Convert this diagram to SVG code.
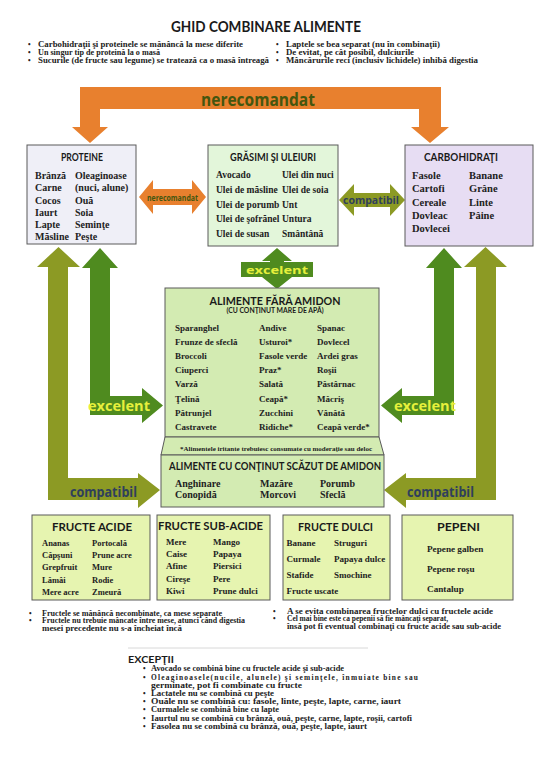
<svg xmlns="http://www.w3.org/2000/svg" width="544" height="769" viewBox="0 0 544 769">
<style>
.box{stroke:#5a5a5a;stroke-width:1}
.t{font-family:Lato,"Open Sans","Liberation Sans",sans-serif;font-weight:bold;fill:#1a1a1a;text-anchor:middle}
.i{font-family:"Liberation Serif",serif;font-weight:bold;fill:#222}
.n{font-family:"Liberation Serif",serif;font-weight:bold;fill:#222;font-size:7.4px}
.lbl{font-family:"Open Sans",Lato,"Liberation Sans",sans-serif;font-weight:bold;text-anchor:middle}
.orange{fill:#E8802E}
.green{fill:#4F8B1F}
.olive{fill:#8C9A24}
.exc{fill:#E6F03C}
.cmp{fill:#2F3F5C}
.ner{fill:#44560F}
</style>
<rect width="544" height="769" fill="#fff"/>

<g id="header">
<text class="t" x="266" y="32" font-size="15" textLength="190" lengthAdjust="spacingAndGlyphs">GHID COMBINARE ALIMENTE</text>
<g class="n">
<text x="28" y="46.5">•</text><text x="38" y="46.5" textLength="205" lengthAdjust="spacingAndGlyphs">Carbohidraţii şi proteinele se mănâncă la mese diferite</text>
<text x="28" y="54.5">•</text><text x="38" y="54.5" textLength="122" lengthAdjust="spacingAndGlyphs">Un singur tip de proteină la o masă</text>
<text x="28" y="62.5">•</text><text x="38" y="62.5" textLength="231" lengthAdjust="spacingAndGlyphs">Sucurile (de fructe sau legume) se tratează ca o masă întreagă</text>
<text x="276" y="46.5">•</text><text x="286" y="46.5" textLength="154" lengthAdjust="spacingAndGlyphs">Laptele se bea separat (nu în combinaţii)</text>
<text x="276" y="54.5">•</text><text x="286" y="54.5" textLength="128" lengthAdjust="spacingAndGlyphs">De evitat, pe cât posibil, dulciurile</text>
<text x="276" y="62.5">•</text><text x="286" y="62.5" textLength="192" lengthAdjust="spacingAndGlyphs">Mâncărurile reci (inclusiv lichidele) inhibă digestia</text>
</g>
</g>

<g id="connectors">
<polygon class="orange" points="80,87 441,87 441,127 449,127 430,143 411,127 419,127 419,109 100,109 100,127 108,127 90,143 72,127 80,127"/>
<text class="lbl ner" x="258" y="105.5" font-size="17" textLength="114" lengthAdjust="spacingAndGlyphs">nerecomandat</text>

<polygon class="orange" points="139,197 153,180 153,189 192,189 192,180 206,197 192,214 192,205 153,205 153,214"/>
<text class="lbl ner" x="172.5" y="200.5" font-size="9" textLength="51" lengthAdjust="spacingAndGlyphs">nerecomandat</text>

<polygon class="olive" points="339,200 354,184 354,193 390,193 390,184 405,200 390,216 390,207 354,207 354,216"/>
<text class="lbl cmp" x="371" y="204" font-size="10" textLength="56" lengthAdjust="spacingAndGlyphs">compatibil</text>

<polygon class="green" points="277,248 292,261 284,261 284,277 292,277 277,289 262,277 270,277 270,261 262,261"/>
<rect class="green" x="241" y="262" width="72" height="15"/>
<text class="lbl exc" x="277" y="273.5" font-size="11" textLength="62" lengthAdjust="spacingAndGlyphs">excelent</text>

<polygon class="olive" points="58.5,247 80,267 68,267 68,478 138,478 138,473 160,490 138,508 138,500 48,500 48,267 37,267"/>
<polygon class="green" points="100,248 118,268 110,268 110,396 142,396 142,388 163,405.5 142,423 142,415 90,415 90,268 82,268"/>
<text class="lbl exc" x="119" y="410.5" font-size="14" textLength="62" lengthAdjust="spacingAndGlyphs">excelent</text>
<text class="lbl cmp" x="103.5" y="497" font-size="14" textLength="67" lengthAdjust="spacingAndGlyphs">compatibil</text>

<polygon class="olive" points="485.5,247 464,267 476,267 476,478 406,478 406,473 384,490 406,508 406,500 496,500 496,267 507,267"/>
<polygon class="green" points="444,248 426,268 434,268 434,396 402,396 402,388 381,405.5 402,423 402,415 454,415 454,268 462,268"/>
<text class="lbl exc" x="425" y="410.5" font-size="14" textLength="62" lengthAdjust="spacingAndGlyphs">excelent</text>
<text class="lbl cmp" x="440.5" y="497" font-size="14" textLength="67" lengthAdjust="spacingAndGlyphs">compatibil</text>
</g>

<g id="proteine">
<rect class="box" x="27" y="145" width="109" height="99" fill="#EFEFF7"/>
<text class="t" x="82" y="161" font-size="11" textLength="42" lengthAdjust="spacingAndGlyphs">PROTEINE</text>
<g class="i" font-size="10">
<text x="35" y="179">Brânză</text><text x="75" y="179">Oleaginoase</text>
<text x="35" y="191">Carne</text><text x="75" y="191">(nuci, alune)</text>
<text x="35" y="203.5">Cocos</text><text x="75" y="203.5">Ouă</text>
<text x="35" y="215.5">Iaurt</text><text x="75" y="215.5">Soia</text>
<text x="35" y="227.5">Lapte</text><text x="75" y="227.5">Seminţe</text>
<text x="35" y="239.5">Măsline</text><text x="75" y="239.5">Peşte</text>
</g>
</g>

<g id="grasimi">
<rect class="box" x="208" y="145" width="130" height="101" fill="#E3F6DA"/>
<text class="t" x="273" y="161" font-size="11" textLength="86" lengthAdjust="spacingAndGlyphs">GRĂSIMI ŞI ULEIURI</text>
<g class="i" font-size="9.5">
<text x="216" y="178">Avocado</text><text x="282" y="178">Ulei din nuci</text>
<text x="216" y="193">Ulei de măsline</text><text x="282" y="193">Ulei de soia</text>
<text x="216" y="207.5">Ulei de porumb</text><text x="282" y="207.5">Unt</text>
<text x="216" y="222">Ulei de şofrănel</text><text x="282" y="222">Untura</text>
<text x="216" y="236.5">Ulei de susan</text><text x="282" y="236.5">Smântână</text>
</g>
</g>

<g id="carbohidrati">
<rect class="box" x="405" y="145" width="128" height="101" fill="#E7DDF3"/>
<text class="t" x="461" y="161" font-size="11" textLength="74" lengthAdjust="spacingAndGlyphs">CARBOHIDRAŢI</text>
<g class="i" font-size="10.5">
<text x="412" y="179">Fasole</text><text x="469" y="179">Banane</text>
<text x="412" y="192">Cartofi</text><text x="469" y="192">Grâne</text>
<text x="412" y="205.5">Cereale</text><text x="469" y="205.5">Linte</text>
<text x="412" y="218.5">Dovleac</text><text x="469" y="218.5">Pâine</text>
<text x="412" y="232">Dovlecei</text>
</g>
</g>

<g id="fara-amidon">
<rect class="box" x="165" y="288" width="214" height="149" fill="#D3EBB2"/>
<text class="t" x="275" y="304.5" font-size="12" textLength="131" lengthAdjust="spacingAndGlyphs">ALIMENTE FĂRĂ AMIDON</text>
<text class="t" x="275" y="313" font-size="7" textLength="97" lengthAdjust="spacingAndGlyphs">(CU CONŢINUT MARE DE APĂ)</text>
<g class="i" font-size="9">
<text x="175" y="330.5">Sparanghel</text><text x="259" y="330.5">Andive</text><text x="317" y="330.5">Spanac</text>
<text x="175" y="344.7">Frunze de sfeclă</text><text x="259" y="344.7">Usturoi*</text><text x="317" y="344.7">Dovlecel</text>
<text x="175" y="358.9">Broccoli</text><text x="259" y="358.9">Fasole verde</text><text x="317" y="358.9">Ardei gras</text>
<text x="175" y="373.1">Ciuperci</text><text x="259" y="373.1">Praz*</text><text x="317" y="373.1">Roşii</text>
<text x="175" y="387.3">Varză</text><text x="259" y="387.3">Salată</text><text x="317" y="387.3">Păstârnac</text>
<text x="175" y="401.5">Ţelină</text><text x="259" y="401.5">Ceapă*</text><text x="317" y="401.5">Măcriş</text>
<text x="175" y="415.7">Pătrunjel</text><text x="259" y="415.7">Zucchini</text><text x="317" y="415.7">Vânătă</text>
<text x="175" y="429.9">Castravete</text><text x="259" y="429.9">Ridiche*</text><text x="317" y="429.9">Ceapă verde*</text>
</g>
<polygon class="box" points="165,437 379,437 384,455 161,455" fill="#D3EBB2"/>
<text class="i" x="276" y="451" font-size="6" text-anchor="middle" textLength="192" lengthAdjust="spacingAndGlyphs">*Alimentele iritante trebuiesc consumate cu moderaţie sau deloc</text>
</g>

<g id="scazut-amidon">
<rect class="box" x="161" y="455" width="223" height="52" fill="#D3EBB2"/>
<text class="t" x="275" y="469.5" font-size="11" textLength="212" lengthAdjust="spacingAndGlyphs">ALIMENTE CU CONŢINUT SCĂZUT DE AMIDON</text>
<g class="i" font-size="10">
<text x="175" y="486.8">Anghinare</text><text x="260" y="486.8">Mazăre</text><text x="320" y="486.8">Porumb</text>
<text x="175" y="497.8">Conopidă</text><text x="260" y="497.8">Morcovi</text><text x="320" y="497.8">Sfeclă</text>
</g>
</g>

<g id="fructe-acide">
<rect class="box" x="32" y="515" width="118" height="85" fill="#E6F4B0"/>
<text class="t" x="92" y="531" font-size="11" textLength="80" lengthAdjust="spacingAndGlyphs">FRUCTE ACIDE</text>
<g class="i" font-size="8.5">
<text x="42" y="546">Ananas</text><text x="92" y="546">Portocală</text>
<text x="42" y="558">Căpşuni</text><text x="92" y="558">Prune acre</text>
<text x="42" y="570">Grepfruit</text><text x="92" y="570">Mure</text>
<text x="42" y="583">Lămâi</text><text x="92" y="583">Rodie</text>
<text x="42" y="595">Mere acre</text><text x="92" y="595">Zmeură</text>
</g>
</g>

<g id="fructe-subacide">
<rect class="box" x="157" y="515" width="113" height="85" fill="#E6F4B0"/>
<text class="t" x="210.5" y="530" font-size="11" textLength="105" lengthAdjust="spacingAndGlyphs">FRUCTE SUB-ACIDE</text>
<g class="i" font-size="9">
<text x="166" y="545">Mere</text><text x="213" y="545">Mango</text>
<text x="166" y="557.2">Caise</text><text x="213" y="557.2">Papaya</text>
<text x="166" y="569.4">Afine</text><text x="213" y="569.4">Piersici</text>
<text x="166" y="581.6">Cireşe</text><text x="213" y="581.6">Pere</text>
<text x="166" y="593.8">Kiwi</text><text x="213" y="593.8">Prune dulci</text>
</g>
</g>

<g id="fructe-dulci">
<rect class="box" x="283" y="515" width="107" height="85" fill="#E6F4B0"/>
<text class="t" x="335.5" y="531" font-size="11" textLength="75" lengthAdjust="spacingAndGlyphs">FRUCTE DULCI</text>
<g class="i" font-size="9">
<text x="286.5" y="546">Banane</text><text x="334" y="546">Struguri</text>
<text x="286.5" y="562">Curmale</text><text x="334" y="562">Papaya dulce</text>
<text x="286.5" y="578">Stafide</text><text x="334" y="578">Smochine</text>
<text x="286.5" y="594">Fructe uscate</text>
</g>
</g>

<g id="pepeni">
<rect class="box" x="402" y="515" width="111" height="85" fill="#E6F4B0"/>
<text class="t" x="458.5" y="531" font-size="11" textLength="43" lengthAdjust="spacingAndGlyphs">PEPENI</text>
<g class="i" font-size="9.2">
<text x="427" y="552">Pepene galben</text>
<text x="427" y="572">Pepene roşu</text>
<text x="427" y="592">Cantalup</text>
</g>
</g>

<g id="note-fructe">
<g class="n" font-size="7">
<text x="29" y="615.5">•</text><text x="42" y="615.5" textLength="180" lengthAdjust="spacingAndGlyphs">Fructele se mănâncă necombinate, ca mese separate</text>
<text x="29" y="623">•</text><text x="42" y="623" textLength="203" lengthAdjust="spacingAndGlyphs">Fructele nu trebuie mâncate între mese, atunci când digestia</text>
<text x="42" y="630.5" textLength="140" lengthAdjust="spacingAndGlyphs">mesei precedente nu s-a încheiat încă</text>
<text x="273" y="613.5">•</text><text x="287" y="613.5" textLength="206" lengthAdjust="spacingAndGlyphs">A se evita combinarea fructelor dulci cu fructele acide</text>
<text x="273" y="621">•</text><text x="287" y="621" textLength="161" lengthAdjust="spacingAndGlyphs">Cel mai bine este ca pepenii să fie mâncaţi separat,</text>
<text x="287" y="628.5" textLength="214" lengthAdjust="spacingAndGlyphs">însă pot fi eventual combinaţi cu fructe acide sau sub-acide</text>
</g>
</g>

<g id="exceptii">
<line x1="128" y1="648" x2="368" y2="648" stroke="#d8d8d8" stroke-width="1"/>
<text class="t" x="151" y="662.5" font-size="9.5" text-anchor="start" textLength="46" lengthAdjust="spacingAndGlyphs">EXCEPŢII</text>
<g class="n" font-size="7.2">
<text x="143" y="671">•</text><text x="151" y="671" textLength="193" lengthAdjust="spacingAndGlyphs">Avocado se combină bine cu fructele acide şi sub-acide</text>
<text x="143" y="679.5">•</text><text x="151" y="679.5" textLength="267" lengthAdjust="spacing">Oleaginoasele(nucile, alunele) şi seminţele, înmuiate bine sau</text>
<text x="151" y="687.8" textLength="151" lengthAdjust="spacingAndGlyphs">germinate, pot fi combinate cu fructe</text>
<text x="143" y="695.7">•</text><text x="151" y="695.7" textLength="123" lengthAdjust="spacingAndGlyphs">Lactatele nu se combină cu peşte</text>
<text x="143" y="704">•</text><text x="151" y="704" textLength="250" lengthAdjust="spacingAndGlyphs">Ouăle nu se combină cu: fasole, linte, peşte, lapte, carne, iaurt</text>
<text x="143" y="712.3">•</text><text x="151" y="712.3" textLength="128" lengthAdjust="spacingAndGlyphs">Curmalele se combină bine cu lapte</text>
<text x="143" y="720.6">•</text><text x="151" y="720.6" textLength="261" lengthAdjust="spacingAndGlyphs">Iaurtul nu se combină cu brânză, ouă, peşte, carne, lapte, roşii, cartofi</text>
<text x="143" y="728.9">•</text><text x="151" y="728.9" textLength="216" lengthAdjust="spacingAndGlyphs">Fasolea nu se combină cu brânză, ouă, peşte, lapte, iaurt</text>
</g>
</g>
</svg>
